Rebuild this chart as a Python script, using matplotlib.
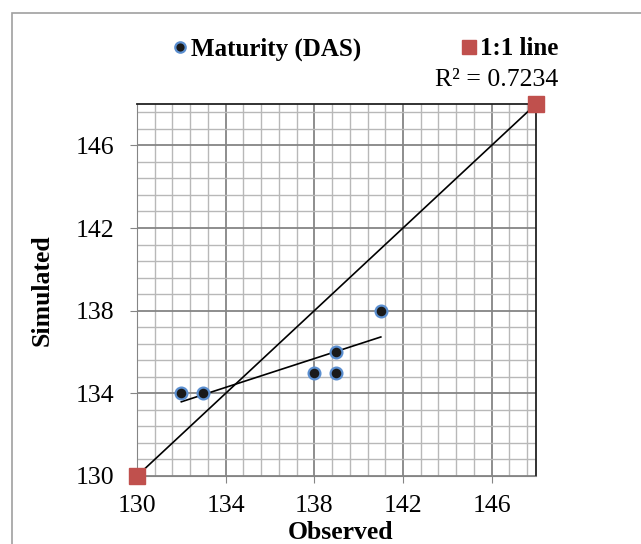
import numpy as np
import matplotlib.pyplot as plt
from matplotlib.lines import Line2D
from matplotlib.patches import Rectangle

# observed vs simulated maturity (days after sowing)
observed = np.array([132, 133, 138, 139, 139, 141])
simulated = np.array([134, 134, 135, 135, 136, 138])
one_to_one = np.array([130, 148])
r2_label = "R² = 0.7234"

plt.rcParams['font.family'] = ['Liberation Serif', 'DejaVu Serif']

fig = plt.figure(figsize=(6.41, 5.44), dpi=100)
ax = fig.add_axes([0.2137, 0.125, 0.8362 - 0.2137, 0.8088 - 0.125])

# light frame around the whole chart area
fig.patches.append(Rectangle((12 / 641, -0.1), 1.2, 1 - 13 / 544 + 0.1,
                             transform=fig.transFigure, fill=False,
                             edgecolor='#a0a0a0', linewidth=1.2))

ax.set_xlim(130, 148)
ax.set_ylim(130, 148)
ax.set_xticks(np.arange(130, 148, 4))
ax.set_yticks(np.arange(130, 148, 4))
ax.set_xticks(np.arange(130, 148.01, 0.8), minor=True)
ax.set_yticks(np.arange(130, 148.01, 0.8), minor=True)
ax.grid(which='minor', color='#b8b8b8', linewidth=1.0)
ax.grid(which='major', color='#858585', linewidth=1.3)
ax.set_axisbelow(True)
ax.tick_params(which='minor', length=0)
ax.tick_params(which='major', length=5, color='#858585', labelsize=18.5)
ax.tick_params(axis='x', pad=9)
ax.tick_params(axis='y', pad=11)
for side in ['left', 'bottom']:
    ax.spines[side].set_color('#858585')
for side in ['top', 'right']:
    ax.spines[side].set_color('#222222')
    ax.spines[side].set_linewidth(1.3)

# 1:1 line
ax.plot(one_to_one, one_to_one, color='black', linewidth=1.2, zorder=3)
ax.plot(one_to_one, one_to_one, linestyle='none', marker='s', markersize=11,
        color='#c0504d', clip_on=False, zorder=4)

# linear trend
slope, intercept = np.polyfit(observed, simulated, 1)
xfit = np.array([observed.min(), observed.max()])
ax.plot(xfit, slope * xfit + intercept, color='black', linewidth=1.2, zorder=3)

ax.plot(observed, simulated, linestyle='none', marker='o', markersize=8.5,
        markerfacecolor='#1a1a1a', markeredgecolor='#5b8fd0', markeredgewidth=1.6,
        zorder=5)

ax.set_xlabel('Observed', fontsize=18.5, fontweight='bold')
ax.xaxis.set_label_coords(0.509, -0.122)
ax.set_ylabel('Simulated', fontsize=18.5, fontweight='bold')
ax.yaxis.set_label_coords(-0.21, 0.5)

handles = [
    Line2D([], [], linestyle='none', marker='o', markersize=7.5,
           markerfacecolor='#1a1a1a', markeredgecolor='#5b8fd0', markeredgewidth=1.6),
    Line2D([], [], linestyle='none', marker='s', markersize=10, color='#c0504d'),
]
fig.legend(handles, ['Maturity (DAS)', '1:1 line'], ncol=2, frameon=False,
           loc='center', bbox_to_anchor=(364 / 641, 1 - 49 / 544),
           prop={'weight': 'bold', 'size': 18}, handletextpad=0.05,
           handlelength=0.8, columnspacing=3.9)

fig.text(558 / 641, 1 - 80 / 544, r2_label, ha='right', va='center', fontsize=18.5)

fig.savefig('out.png', dpi=100)
